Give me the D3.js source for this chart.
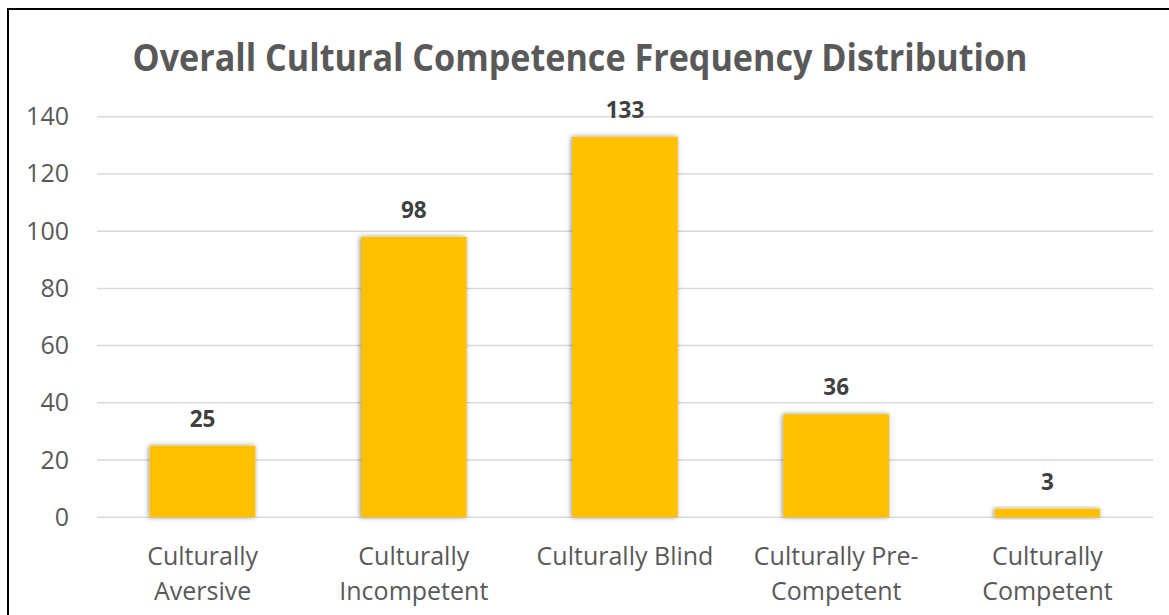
<!DOCTYPE html>
<html>
<head>
<meta charset="utf-8">
<script src="https://cdn.jsdelivr.net/npm/d3@7"></script>
<style>
  body { margin: 0; background: #fff; }
  svg { display: block; font-family: "Open Sans", sans-serif; }
</style>
</head>
<body>
<div id="chart"></div>
<script>
// data
const categories = [
  ["Culturally", "Aversive"],
  ["Culturally", "Incompetent"],
  ["Culturally Blind"],
  ["Culturally Pre-", "Competent"],
  ["Culturally", "Competent"]
];
const counts = [25, 98, 133, 36, 3];
const yTicks = [0, 20, 40, 60, 80, 100, 120, 140];
const title = "Overall Cultural Competence Frequency Distribution";

const W = 1169, H = 615;
const margin = {top: 116.7, right: 16, bottom: 97.7, left: 97};
const width = W - margin.left - margin.right;
const height = H - margin.top - margin.bottom;

const svg = d3.select("#chart").append("svg")
  .attr("width", W)
  .attr("height", H);

// soft shadow round the bars
const defs = svg.append("defs");
const f = defs.append("filter").attr("id", "shadow")
  .attr("x", "-20%").attr("y", "-20%").attr("width", "140%").attr("height", "140%");
f.append("feDropShadow")
  .attr("dx", -1).attr("dy", 0).attr("stdDeviation", 2.4)
  .attr("flood-color", "#000").attr("flood-opacity", 0.45);

// chart border (only top and left fall inside the picture)
svg.append("rect")
  .attr("x", 8).attr("y", 9)
  .attr("width", W + 20).attr("height", H + 20)
  .attr("fill", "none").attr("stroke", "#000").attr("stroke-width", 2);

// title
const t = svg.append("text")
  .attr("x", 580).attr("y", 71)
  .attr("text-anchor", "middle")
  .attr("font-size", 38)
  .attr("font-weight", "bold")
  .attr("fill", "#595959")
  .text(title);
t.attr("textLength", 895).attr("lengthAdjust", "spacingAndGlyphs");

const g = svg.append("g")
  .attr("transform", `translate(${margin.left},${margin.top})`);

const x = d3.scaleBand()
  .domain(d3.range(categories.length))
  .range([0, width])
  .paddingInner(0.5)
  .paddingOuter(0.25);

const y = d3.scaleLinear()
  .domain([0, 140])
  .range([height, 0]);

// gridlines
g.append("g")
  .selectAll("line")
  .data(yTicks)
  .join("line")
  .attr("x1", 0).attr("x2", width)
  .attr("y1", d => y(d)).attr("y2", d => y(d))
  .attr("stroke", "#d9d9d9")
  .attr("stroke-width", 1.5);

// y axis labels
const yAxis = d3.axisLeft(y).tickValues(yTicks).tickSize(0).tickPadding(28);
g.append("g")
  .call(yAxis)
  .call(a => a.select(".domain").remove())
  .call(a => a.selectAll("text")
    .attr("font-family", "Open Sans, sans-serif")
    .attr("font-size", 25)
    .attr("fill", "#595959"));

// bars
g.append("g")
  .selectAll("rect")
  .data(counts)
  .join("rect")
  .attr("x", (d, i) => x(i))
  .attr("y", d => y(d))
  .attr("width", x.bandwidth())
  .attr("height", d => height - y(d))
  .attr("fill", "#ffc000")
  .attr("filter", "url(#shadow)");

// value labels
g.append("g")
  .selectAll("text")
  .data(counts)
  .join("text")
  .attr("x", (d, i) => x(i) + x.bandwidth() / 2)
  .attr("y", d => y(d) - 19)
  .attr("text-anchor", "middle")
  .attr("font-size", 22.5)
  .attr("font-weight", "bold")
  .attr("fill", "#404040")
  .text(d => d);

// category labels
const xAxis = d3.axisBottom(x).tickSize(0).tickFormat(() => "");
const xg = g.append("g")
  .attr("transform", `translate(0,${height})`)
  .call(xAxis)
  .call(a => a.select(".domain").remove());

xg.selectAll(".tick").each(function(i) {
  const txt = d3.select(this).select("text")
    .attr("y", null).attr("dy", null)
    .attr("font-family", "Open Sans, sans-serif")
    .attr("font-size", 25)
    .attr("fill", "#595959");
  txt.selectAll("tspan")
    .data(categories[i])
    .join("tspan")
    .attr("x", 0)
    .attr("y", (d, k) => 48 + k * 35)
    .text(d => d);
});
</script>
</body>
</html>
